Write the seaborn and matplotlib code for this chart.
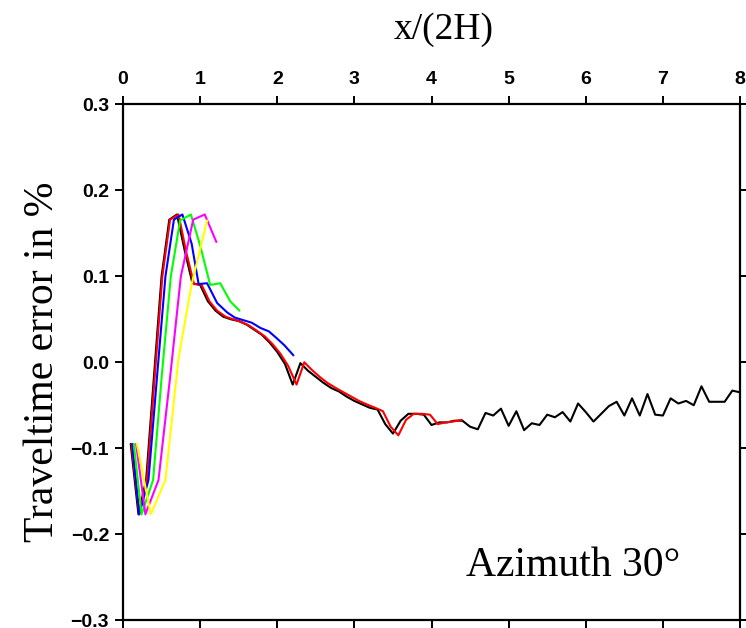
import matplotlib
matplotlib.use("Agg")
import matplotlib.pyplot as plt
import seaborn as sns
import pandas as pd

# ---- data ----
black_x = [0.1, 0.2, 0.3, 0.4, 0.5, 0.6, 0.7, 0.8, 0.9, 1.0, 1.1, 1.2, 1.3, 1.4, 1.5, 1.6,
           1.7, 1.8, 1.9, 2.0, 2.1, 2.2, 2.3, 2.4, 2.5, 2.6, 2.7, 2.8, 2.9, 3.0, 3.1, 3.2,
           3.3, 3.4, 3.5, 3.6, 3.7, 3.8, 3.9, 4.0, 4.1, 4.2, 4.3, 4.4, 4.5, 4.6, 4.7, 4.8,
           4.9, 5.0, 5.1, 5.2, 5.3, 5.4, 5.5, 5.6, 5.7, 5.8, 5.9, 6.0, 6.1, 6.2, 6.3, 6.4,
           6.5, 6.6, 6.7, 6.8, 6.9, 7.0, 7.1, 7.2, 7.3, 7.4, 7.5, 7.6, 7.7, 7.8, 7.9, 8.0]
black_y = [-0.095, -0.177, -0.137, -0.018, 0.100, 0.166, 0.172, 0.130, 0.092, 0.090,
           0.071, 0.060, 0.053, 0.050, 0.048, 0.044, 0.038, 0.032, 0.023, 0.012,
           -0.002, -0.026, -0.001, -0.010, -0.017, -0.024, -0.030, -0.034, -0.040, -0.045,
           -0.049, -0.053, -0.055, -0.072, -0.083, -0.068, -0.060, -0.060, -0.061, -0.073,
           -0.070, -0.070, -0.068, -0.068, -0.075, -0.078, -0.059, -0.062, -0.054, -0.074,
           -0.057, -0.079, -0.071, -0.073, -0.061, -0.064, -0.058, -0.069, -0.048, -0.058,
           -0.069, -0.060, -0.051, -0.046, -0.062, -0.042, -0.062, -0.037, -0.061, -0.062,
           -0.042, -0.048, -0.045, -0.050, -0.028, -0.046, -0.046, -0.046, -0.033, -0.035]

red_x = [0.11, 0.21, 0.31, 0.41, 0.51, 0.61, 0.72, 0.82, 0.92, 1.02, 1.12, 1.22, 1.33,
         1.43, 1.53, 1.63, 1.73, 1.84, 1.94, 2.04, 2.14, 2.25, 2.35, 2.45, 2.55, 2.65,
         2.76, 2.86, 2.96, 3.06, 3.16, 3.27, 3.37, 3.47, 3.57, 3.67, 3.77, 3.88, 3.98,
         4.08, 4.18, 4.28, 4.39]
red_y = [-0.095, -0.177, -0.137, -0.018, 0.100, 0.166, 0.172, 0.128, 0.091, 0.090,
         0.071, 0.060, 0.053, 0.050, 0.047, 0.043, 0.037, 0.030, 0.021, 0.010,
         -0.004, -0.026, 0.000, -0.009, -0.017, -0.024, -0.030, -0.035, -0.040, -0.045,
         -0.049, -0.053, -0.057, -0.075, -0.085, -0.067, -0.060, -0.060, -0.061, -0.072,
         -0.070, -0.069, -0.067]

blue_x = [0.12, 0.21, 0.33, 0.44, 0.55, 0.66, 0.77, 0.89, 0.98, 1.09, 1.22, 1.35, 1.45,
          1.56, 1.67, 1.78, 1.89, 1.98, 2.09, 2.21]
blue_y = [-0.095, -0.177, -0.137, -0.018, 0.100, 0.166, 0.172, 0.138, 0.091, 0.092,
          0.069, 0.058, 0.052, 0.049, 0.046, 0.040, 0.036, 0.029, 0.020, 0.008]

green_x = [0.14, 0.24, 0.39, 0.50, 0.62, 0.74, 0.88, 1.00, 1.13, 1.26, 1.39, 1.51]
green_y = [-0.095, -0.177, -0.137, -0.018, 0.100, 0.165, 0.172, 0.136, 0.090, 0.092,
           0.071, 0.060]

magenta_x = [0.17, 0.29, 0.46, 0.61, 0.75, 0.91, 1.06, 1.21]
magenta_y = [-0.095, -0.177, -0.137, -0.018, 0.100, 0.166, 0.172, 0.140]

yellow_x = [0.18, 0.36, 0.55, 0.72, 0.89, 1.09]
yellow_y = [-0.095, -0.177, -0.137, 0.005, 0.091, 0.165]

series = [("black", black_x, black_y), ("#ff0000", red_x, red_y),
          ("#0000ff", blue_x, blue_y), ("#00ff00", green_x, green_y),
          ("#ff00ff", magenta_x, magenta_y), ("#ffff00", yellow_x, yellow_y)]

x_ticks = [0, 1, 2, 3, 4, 5, 6, 7, 8]
y_ticks = [-0.3, -0.2, -0.1, 0.0, 0.1, 0.2, 0.3]
y_tick_labels = ["\u22120.3", "\u22120.2", "\u22120.1", "0.0", "0.1", "0.2", "0.3"]

# ---- figure ----
sns.set_style("white")
plt.rcParams["font.family"] = ["Liberation Sans", "DejaVu Sans"]
plt.rcParams["text.color"] = "black"
plt.rcParams["axes.labelcolor"] = "black"
plt.rcParams["xtick.color"] = "black"
plt.rcParams["ytick.color"] = "black"

fig = plt.figure(figsize=(7.46, 6.28), dpi=100)
ax = fig.add_axes([0.1649, 0.0127, 0.8271, 0.8209])

for color, xs, ys in series:
    df = pd.DataFrame({"x": xs, "y": ys})
    sns.lineplot(data=df, x="x", y="y", color=color, linewidth=1.5, sort=False,
                 estimator=None, ax=ax)

ax.set_xlim(0, 8)
ax.set_ylim(-0.3, 0.3)
ax.set_xticks(x_ticks)
ax.set_yticks(y_ticks)
ax.set_yticklabels(y_tick_labels)
ax.set_xticklabels([str(t) for t in x_ticks])

for s in ax.spines.values():
    s.set_linewidth(1.6)
    s.set_color("black")
    s.set_visible(True)

ax.tick_params(axis="both", which="major", direction="out", length=6, width=1.4,
               colors="black", labelcolor="black", labelsize=14)
ax.tick_params(axis="x", top=True, labeltop=True, bottom=True, labelbottom=False, pad=6)
ax.tick_params(axis="y", left=True, right=True, labelleft=True, labelright=False, pad=4)
for lab in ax.get_xticklabels() + ax.get_yticklabels():
    lab.set_fontweight("bold")

ax.xaxis.set_label_position("top")
ax.set_xlabel("x/(2H)", fontsize=27, family="Liberation Serif", labelpad=23, color="black")
ax.set_ylabel("Traveltime error in %", fontsize=30, family="Liberation Serif", labelpad=6,
              color="black")
ax.xaxis.label.set_position((0.52, 1.0))

ax.text(0.556, 0.105, "Azimuth 30\u00b0", transform=ax.transAxes, fontsize=30,
        family="Liberation Serif", ha="left", va="center", color="black")

fig.savefig("out.png", dpi=100)
